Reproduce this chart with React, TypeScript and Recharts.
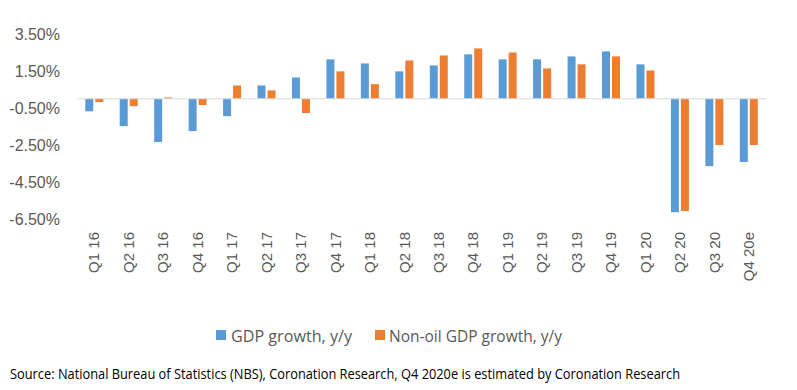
import React from 'react';
import { BarChart, Bar, XAxis, YAxis, ReferenceLine } from 'recharts';

const categories = ['Q1 16','Q2 16','Q3 16','Q4 16','Q1 17','Q2 17','Q3 17','Q4 17','Q1 18','Q2 18','Q3 18','Q4 18','Q1 19','Q2 19','Q3 19','Q4 19','Q1 20','Q2 20','Q3 20','Q4 20e'];
const gdpGrowth = [-0.68,-1.48,-2.34,-1.75,-0.94,0.72,1.15,2.13,1.91,1.48,1.80,2.40,2.13,2.13,2.29,2.56,1.86,-6.13,-3.64,-3.42];
const nonOilGrowth = [-0.18,-0.40,0.07,-0.34,0.72,0.45,-0.77,1.48,0.79,2.07,2.34,2.72,2.50,1.64,1.86,2.29,1.53,-6.07,-2.50,-2.50];
const yTicks = [-6.5,-4.5,-2.5,-0.5,1.5,3.5];
const seriesNames = ['GDP growth, y/y', 'Non-oil GDP growth, y/y'];
const sourceNote = 'Source: National Bureau of Statistics (NBS), Coronation Research, Q4 2020e is estimated by Coronation Research';

const data = categories.map((c, i) => ({ name: c, gdp: gdpGrowth[i], nonOil: nonOilGrowth[i] }));

const BLUE = '#5B9BD5';
const ORANGE = '#ED7D31';
const TEXT = '#595959';
const ARIAL = '"Liberation Sans", Arial, sans-serif';
const NARROW = '"Open Sans", sans-serif';

const XTick = (props: any) => {
  const { x, payload } = props;
  const ty = 232;
  return (
    <text
      x={x}
      y={ty}
      dy="0.35em"
      transform={`rotate(-90, ${x}, ${ty})`}
      textAnchor="end"
      fill={TEXT}
      fontSize={15}
      fontFamily={ARIAL}
    >
      {payload.value}
    </text>
  );
};

export default function App() {
  return (
    <div style={{ position: 'fixed', left: 0, top: 0, width: 797, height: 390, background: '#fff', overflow: 'hidden' }}>
      <BarChart
        width={797}
        height={300}
        data={data}
        margin={{ top: 34, right: 31, bottom: 0, left: 0 }}
        barCategoryGap="24%"
        barGap={2}
      >
        <XAxis dataKey="name" axisLine={false} tickLine={false} interval={0} tick={<XTick />} height={81} />
        <YAxis
          domain={[-6.5, 3.5]}
          ticks={yTicks}
          interval={0}
          width={77}
          axisLine={false}
          tickLine={false}
          tickSize={0}
          tickMargin={17}
          allowDataOverflow
          tickFormatter={(v: number) => `${v.toFixed(2)}%`}
          tick={{ fill: TEXT, fontSize: 16, fontFamily: ARIAL }}
        />
        <ReferenceLine y={0} stroke="#D9D9D9" strokeWidth={1} />
        <Bar dataKey="gdp" name={seriesNames[0]} fill={BLUE} isAnimationActive={false} />
        <Bar dataKey="nonOil" name={seriesNames[1]} fill={ORANGE} isAnimationActive={false} />
      </BarChart>
      <svg width={797} height={90} style={{ position: 'absolute', left: 0, top: 300 }}>
        <rect x={216} y={30} width={10} height={10} fill={BLUE} />
        <text x={231} y={42} fontFamily={NARROW} fontSize={17} fill={TEXT} textLength={121} lengthAdjust="spacingAndGlyphs">
          {seriesNames[0]}
        </text>
        <rect x={375} y={30} width={10} height={10} fill={ORANGE} />
        <text x={389} y={42} fontFamily={NARROW} fontSize={17} fill={TEXT} textLength={173} lengthAdjust="spacingAndGlyphs">
          {seriesNames[1]}
        </text>
        <text x={10} y={79} fontFamily={NARROW} fontSize={15} fill="#000" textLength={670} lengthAdjust="spacingAndGlyphs">
          {sourceNote}
        </text>
      </svg>
    </div>
  );
}
